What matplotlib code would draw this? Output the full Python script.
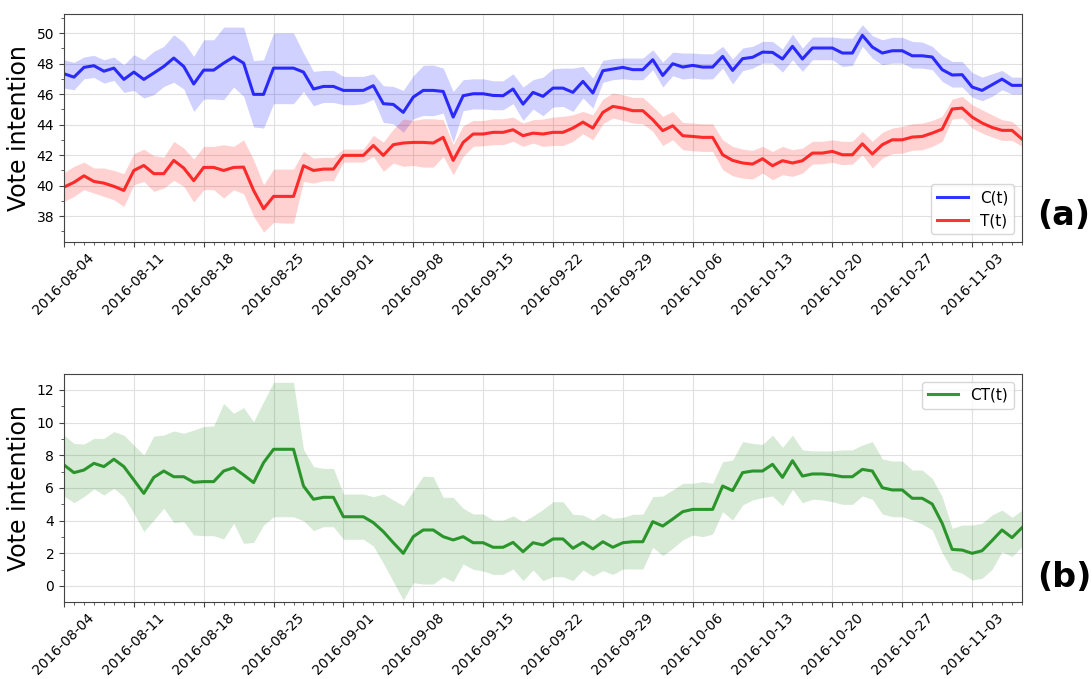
import matplotlib
matplotlib.use('Agg')
import matplotlib.pyplot as plt
import matplotlib.dates as mdates
from matplotlib.ticker import MultipleLocator, AutoMinorLocator
import pandas as pd

# Daily polls, 2016-08-04 .. 2016-11-08
dates = pd.date_range('2016-08-04', periods=97, freq='D')

c_mean = [47.33, 47.11, 47.75, 47.86, 47.5, 47.7, 46.96, 47.44, 46.96, 47.38, 47.81, 48.36, 47.81, 46.66, 47.57, 47.57,
          48.03, 48.43, 48.03, 45.98, 45.98, 47.7, 47.7, 47.7, 47.44, 46.33, 46.5, 46.5, 46.24, 46.24, 46.24,
          46.55, 45.37, 45.32, 44.8, 45.8, 46.24, 46.24, 46.17, 44.49, 45.89, 46.02, 46.02, 45.91, 45.89, 46.33, 45.34,
          46.11, 45.85, 46.39, 46.39, 46.11, 46.83, 46.07, 47.53, 47.64, 47.75, 47.6, 47.6, 48.25, 47.22, 47.99, 47.77,
          47.88, 47.77, 47.77, 48.47,
          47.55, 48.32, 48.41, 48.75, 48.73, 48.3, 49.13, 48.3, 49.02, 49.02, 49.02, 48.69, 48.69, 49.85, 49.08, 48.69,
          48.84, 48.84, 48.51, 48.51, 48.43, 47.6, 47.25, 47.27, 46.46, 46.24, 46.61, 46.98, 46.57, 46.57]
c_upper = [48.25, 48.08, 48.43, 48.54, 48.25, 48.43, 47.92, 48.58, 48.25, 48.8, 49.13, 49.89, 49.39, 48.47, 49.56, 49.56,
           50.39, 50.39, 50.39, 48.19, 48.25, 50.0, 50.0, 50.0, 48.69, 47.49, 47.55, 47.55, 47.16, 47.16, 47.16,
           47.33, 46.55, 46.5, 46.24, 47.2, 47.88, 47.9, 47.7, 46.17, 46.94, 47.0, 47.0, 46.87, 46.87, 47.33, 46.46,
           46.94, 47.11, 47.66, 47.7, 47.7, 47.81, 47.05, 48.21, 48.32, 48.36, 48.36, 48.36, 48.91, 48.1, 48.75, 48.69,
           48.69, 48.64, 48.64, 49.13,
           48.3, 49.02, 49.13, 49.45, 49.45, 48.95, 49.93, 49.02, 49.74, 49.74, 49.74, 49.67, 49.67, 50.55, 49.83, 49.56,
           49.72, 49.72, 49.45, 49.41, 49.13, 48.51, 48.14, 48.14, 47.42, 47.11, 47.33, 47.55, 47.11, 47.11]
c_lower = [46.39, 46.28, 47.0, 47.09, 46.72, 46.9, 46.11, 46.24, 45.74, 45.96, 46.5, 46.77, 46.33, 44.86, 45.67, 45.67,
           45.63, 46.46, 45.85, 43.84, 43.77, 45.37, 45.37, 45.37, 46.17, 45.23, 45.45, 45.45, 45.3, 45.3, 45.37,
           45.67, 44.14, 44.05, 43.49, 44.38, 44.6, 44.58, 44.75, 42.83, 44.91, 45.02, 45.02, 44.97, 44.97, 45.37, 44.27,
           45.02, 44.58, 45.15, 45.19, 44.86, 45.74, 45.08, 46.77, 46.94, 47.0, 46.94, 46.94, 47.6, 46.46, 47.2, 46.98,
           47.05, 46.98, 47.0, 47.7,
           46.66, 47.53, 47.7, 48.03, 48.03, 47.44, 48.25, 47.49, 48.25, 48.25, 48.25, 47.81, 47.88, 49.13, 48.36, 47.92,
           48.03, 48.03, 47.7, 47.7, 47.6, 46.83, 46.46, 46.46, 45.8, 45.56, 45.85, 46.28, 46.0, 46.0]

t_mean = [39.9, 40.21, 40.64, 40.27, 40.16, 39.95, 39.68, 40.99, 41.32, 40.78, 40.78, 41.65, 41.15, 40.32, 41.19, 41.19,
          40.99, 41.19, 41.21, 39.68, 38.48, 39.29, 39.29, 39.29, 41.3, 40.99, 41.08, 41.08, 41.98, 41.98, 41.98,
          42.63, 41.98, 42.68, 42.79, 42.83, 42.83, 42.79, 43.16, 41.65, 42.83, 43.38, 43.38, 43.49, 43.49, 43.66, 43.27,
          43.44, 43.38, 43.49, 43.49, 43.77, 44.16, 43.77, 44.8, 45.19, 45.08, 44.91, 44.91, 44.32, 43.6, 43.92, 43.27,
          43.22, 43.16, 43.16, 42.02,
          41.65, 41.48, 41.41, 41.76, 41.3, 41.63, 41.48, 41.63, 42.13, 42.13, 42.24, 42.02, 42.02, 42.74, 42.07, 42.68,
          43.0, 43.0, 43.18, 43.22, 43.44, 43.7, 45.02, 45.08, 44.49, 44.1, 43.81, 43.62, 43.62, 43.05]
t_upper = [40.86, 41.26, 41.54, 41.15, 41.15, 40.99, 40.78, 42.09, 42.39, 41.96, 41.87, 42.9, 42.46, 41.74, 42.57, 42.57,
           42.68, 42.57, 43.0, 41.69, 40.05, 41.08, 41.08, 41.08, 42.24, 41.8, 41.85, 41.85, 42.39, 42.39, 42.39,
           43.29, 42.85, 43.7, 44.36, 44.27, 44.38, 44.38, 44.32, 42.68, 43.92, 44.27, 44.27, 44.38, 44.38, 44.49, 44.1,
           44.32, 44.36, 44.49, 44.54, 44.64, 44.86, 44.64, 45.67, 46.07, 45.96, 45.78, 45.78, 45.19, 44.54, 44.86, 44.14,
           44.1, 44.05, 44.05, 43.0,
           42.57, 42.39, 42.31, 42.57, 42.24, 42.57, 42.35, 42.46, 42.9, 42.9, 43.0, 42.9, 42.9, 43.55, 42.9, 43.49,
           43.77, 43.88, 44.05, 44.1, 44.27, 44.54, 45.67, 45.85, 45.3, 44.97, 44.64, 44.32, 44.21, 43.62]
t_lower = [38.96, 39.29, 39.73, 39.51, 39.29, 39.07, 38.63, 40.05, 40.27, 39.62, 39.84, 40.34, 39.95, 38.92, 39.73, 39.73,
           39.18, 39.73, 39.46, 37.98, 36.95, 37.58, 37.54, 37.54, 40.27, 40.16, 40.32, 40.32, 41.54, 41.54, 41.54,
           41.91, 40.93, 41.48, 41.26, 41.32, 41.21, 41.21, 41.91, 40.71, 41.91, 42.57, 42.61, 42.68, 42.68, 42.9, 42.57,
           42.79, 42.57, 42.63, 42.63, 42.9, 43.4, 43.0, 44.05, 44.43, 44.27, 44.1, 44.05, 43.55, 42.63, 43.0, 42.35,
           42.28, 42.24, 42.24, 41.04,
           40.64, 40.49, 40.43, 40.82, 40.38, 40.71, 40.6, 40.82, 41.41, 41.43, 41.52, 41.37, 41.41, 42.02, 41.15, 41.8,
           42.09, 42.13, 42.31, 42.35, 42.57, 42.9, 44.36, 44.43, 43.77, 43.44, 43.18, 42.96, 42.96, 42.57]

ct_mean = [7.41, 6.94, 7.1, 7.51, 7.31, 7.76, 7.31, 6.49, 5.67, 6.65, 7.04, 6.69, 6.69, 6.35, 6.39, 6.39,
           7.04, 7.24, 6.8, 6.33, 7.55, 8.37, 8.37, 8.37, 6.12, 5.31, 5.43, 5.43, 4.24, 4.24, 4.24,
           3.88, 3.33, 2.65, 2.0, 3.02, 3.43, 3.43, 3.02, 2.82, 3.02, 2.65, 2.65, 2.37, 2.37, 2.67, 2.1,
           2.65, 2.51, 2.88, 2.88, 2.31, 2.67, 2.27, 2.71, 2.37, 2.65, 2.71, 2.71, 3.94, 3.67, 4.1, 4.55,
           4.69, 4.69, 4.69, 6.12,
           5.84, 6.94, 7.04, 7.04, 7.45, 6.65, 7.67, 6.73, 6.86, 6.86, 6.8, 6.69, 6.69, 7.14, 7.04, 6.02,
           5.88, 5.88, 5.37, 5.37, 5.02, 3.84, 2.24, 2.2, 2.0, 2.16, 2.78, 3.43, 2.96, 3.57]
ct_upper = [9.24, 8.73, 8.69, 9.04, 9.04, 9.45, 9.24, 8.63, 8.02, 9.18, 9.24, 9.49, 9.35, 9.55, 9.76, 9.8,
            11.18, 10.57, 10.92, 10.06, 11.29, 12.47, 12.47, 12.47, 8.37, 7.31, 7.2, 7.2, 5.63, 5.63, 5.63,
            5.47, 5.63, 5.27, 4.92, 5.82, 6.73, 6.69, 5.43, 5.43, 4.76, 4.41, 4.41, 4.04, 4.04, 4.29, 3.94,
            4.29, 4.69, 5.16, 5.16, 4.39, 4.35, 4.04, 4.45, 4.14, 4.2, 4.39, 4.39, 5.47, 5.51, 5.88, 6.29,
            6.29, 6.39, 6.29, 7.61,
            7.71, 8.84, 8.73, 8.67, 9.24, 8.49, 9.24, 8.33, 8.27, 8.27, 8.27, 8.33, 8.33, 8.63, 8.84, 7.78,
            7.65, 7.65, 7.1, 7.1, 6.59, 5.47, 3.53, 3.73, 3.73, 3.84, 4.35, 4.65, 4.2, 4.65]
ct_lower = [5.51, 5.1, 5.47, 5.94, 5.57, 5.98, 5.47, 4.45, 3.33, 4.04, 4.76, 3.88, 3.94, 3.12, 3.08, 3.08,
            2.88, 3.84, 2.61, 2.67, 3.73, 4.24, 4.24, 4.24, 4.0, 3.39, 3.63, 3.63, 2.86, 2.86, 2.86,
            2.45, 1.39, 0.27, -0.86, 0.2, 0.12, 0.12, 0.57, 0.27, 1.35, 1.02, 0.92, 0.71, 0.71, 1.04, 0.33,
            0.98, 0.33, 0.57, 0.57, 0.33, 0.98, 0.61, 0.94, 0.71, 1.04, 1.04, 1.04, 2.37, 1.86, 2.31, 2.82,
            3.12, 3.02, 3.18, 4.55,
            4.04, 4.96, 5.27, 5.41, 5.51, 4.92, 5.92, 5.1, 5.31, 5.27, 5.16, 5.0, 5.0, 5.51, 5.31, 4.41,
            4.24, 4.24, 4.04, 3.8, 3.43, 2.04, 0.98, 0.78, 0.37, 0.47, 1.02, 2.1, 1.8, 2.41]


def style_axis(ax):
    ax.set_xlim(dates[0], dates[-1])
    ax.xaxis.set_major_locator(mdates.WeekdayLocator(byweekday=mdates.TH))
    ax.xaxis.set_minor_locator(mdates.DayLocator())
    ax.xaxis.set_major_formatter(mdates.DateFormatter('%Y-%m-%d'))
    ax.yaxis.set_major_locator(MultipleLocator(2))
    ax.yaxis.set_minor_locator(AutoMinorLocator(2))
    for lbl in ax.get_xticklabels():
        lbl.set_rotation(45)
        lbl.set_ha('center')
    ax.tick_params(axis='x', which='major', labelsize=10, pad=2.5)
    ax.tick_params(axis='y', which='major', labelsize=10)
    ax.tick_params(axis='both', which='major', color='#444444', length=3.5)
    ax.tick_params(axis='both', which='minor', color='#444444', length=2)
    ax.grid(True, color='0.88', linewidth=0.8)
    ax.set_axisbelow(True)
    for sp in ax.spines.values():
        sp.set_color('#444444')
    ax.set_ylabel('Vote intention', fontsize=17)


fig = plt.figure(figsize=(10.92, 6.79), dpi=100)
ax1 = fig.add_axes([0.0586, 0.6436, 0.8773, 0.3358])
ax2 = fig.add_axes([0.0586, 0.1134, 0.8773, 0.3358])

# (a) C(t) and T(t)
ax1.fill_between(dates, c_lower, c_upper, color='b', alpha=0.18, linewidth=0)
ax1.fill_between(dates, t_lower, t_upper, color='r', alpha=0.18, linewidth=0)
ax1.plot(dates, c_mean, color='b', alpha=0.8, linewidth=2.2, label='C(t)')
ax1.plot(dates, t_mean, color='r', alpha=0.8, linewidth=2.2, label='T(t)')
ax1.set_ylim(36.3, 51.25)
style_axis(ax1)
ax1.legend(loc='lower right', fontsize=11)

# (b) CT(t)
ax2.fill_between(dates, ct_lower, ct_upper, color='g', alpha=0.16, linewidth=0)
ax2.plot(dates, ct_mean, color='g', alpha=0.8, linewidth=2.2, label='CT(t)')
ax2.set_ylim(-0.98, 12.98)
style_axis(ax2)
ax2.legend(loc='upper right', fontsize=11)

fig.text(1037 / 1092, 0.683, '(a)', fontsize=24, fontweight='bold', ha='left', va='center')
fig.text(1037 / 1092, 0.149, '(b)', fontsize=24, fontweight='bold', ha='left', va='center')

fig.savefig('out.png', dpi=100)
